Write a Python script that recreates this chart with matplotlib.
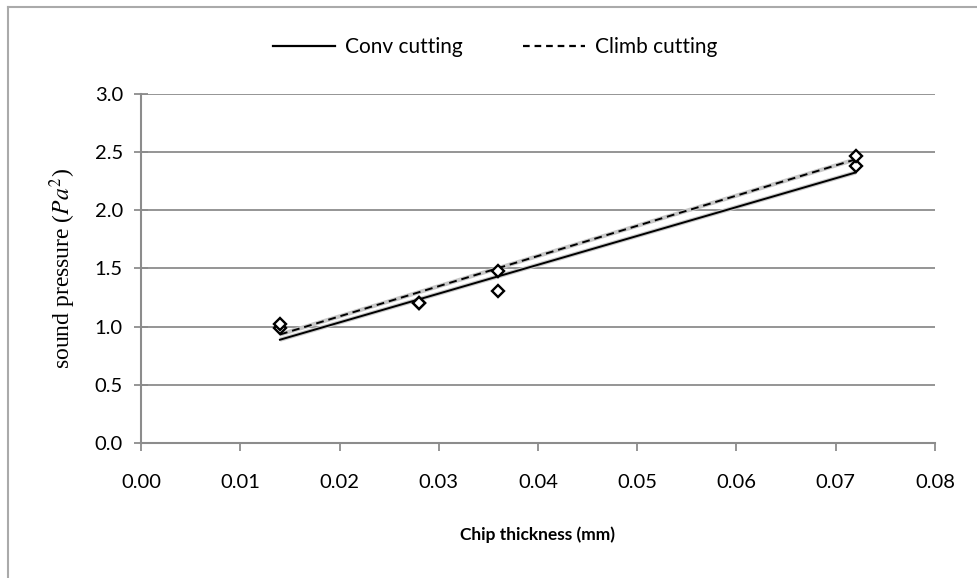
import numpy as np
import matplotlib
matplotlib.use("Agg")
import matplotlib.pyplot as plt
from matplotlib.lines import Line2D

# measured points (chip thickness mm, sound pressure Pa^2)
conv_x = [0.014, 0.028, 0.036, 0.072]
conv_y = [0.99, 1.20, 1.31, 2.38]
climb_x = [0.014, 0.028, 0.036, 0.072]
climb_y = [1.02, 1.20, 1.48, 2.47]

x_ticks = [0.00, 0.01, 0.02, 0.03, 0.04, 0.05, 0.06, 0.07, 0.08]
y_ticks = [0.0, 0.5, 1.0, 1.5, 2.0, 2.5, 3.0]

plt.rcParams["font.family"] = ["Lato", "DejaVu Sans"]
plt.rcParams["mathtext.fontset"] = "stix"

fig = plt.figure(figsize=(9.78, 5.78), dpi=100)
ax = fig.add_axes([0.1442, 0.2336, 0.8118, 0.6038])

grey = "#8c8c8c"
ax.grid(axis="y", color=grey, lw=1.3)
ax.set_axisbelow(True)

# linear trendlines (Excel style)
for xs, ys, ls in [(conv_x, conv_y, "-"), (climb_x, climb_y, (0, (4, 2.5)))]:
    k, b = np.polyfit(xs, ys, 1)
    tx = np.array([min(xs), max(xs)])
    ax.plot(tx, k * tx + b, color="#c8c8c8", lw=3.0, ls="-", solid_capstyle="butt")
    ax.plot(tx, k * tx + b, color="black", lw=1.4, ls=ls)

ax.plot(conv_x, conv_y, ls="none", marker="D", ms=6.5, mfc="white", mec="black", mew=1.7)
ax.plot(climb_x, climb_y, ls="none", marker="D", ms=6.5, mfc="white", mec="black", mew=1.7)

ax.set_xlim(0, 0.08)
ax.set_ylim(0, 3.0)
ax.set_xticks(x_ticks)
ax.set_xticklabels([f"{v:.2f}" for v in x_ticks], fontsize=14.5)
ax.set_yticks(y_ticks)
ax.set_yticklabels([f"{v:.1f}" for v in y_ticks], fontsize=14.5)

for s in ["top", "right"]:
    ax.spines[s].set_visible(False)
for s in ["left", "bottom"]:
    ax.spines[s].set_color(grey)
    ax.spines[s].set_linewidth(1.5)
ax.tick_params(axis="y", direction="inout", length=10, width=1.3, color=grey, pad=8)
ax.tick_params(axis="x", direction="out", length=6, width=1.3, color=grey, pad=16)

ax.set_xlabel("Chip thickness (mm)", fontsize=12.5, fontweight="bold", labelpad=26)
ax.set_ylabel(r"sound pressure ($Pa^2$)", fontsize=17, family="Liberation Serif", labelpad=12)

handles = [Line2D([], [], color="black", lw=1.6, ls="-"),
           Line2D([], [], color="black", lw=1.6, ls=(0, (3, 2.2)))]
fig.legend(handles, ["Conv cutting", "Climb cutting"], loc="center",
           bbox_to_anchor=(0.506, 0.918), ncol=2, frameon=False, fontsize=15,
           handlelength=3.0, columnspacing=2.9, handletextpad=0.45)

# chart frame
fig.add_artist(Line2D([0.0085, 0.0085], [0, 0.988], color="#aaaaaa", lw=1.5, transform=fig.transFigure))
fig.add_artist(Line2D([0.0085, 1], [0.988, 0.988], color="#aaaaaa", lw=1.5, transform=fig.transFigure))

fig.savefig("out.png", dpi=100)
